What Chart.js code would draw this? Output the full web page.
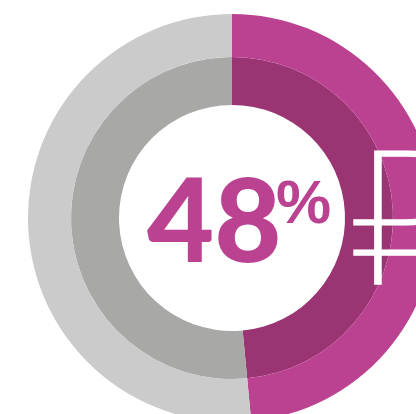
<!DOCTYPE html>
<html>
<head>
<meta charset="utf-8">
<script src="https://cdn.jsdelivr.net/npm/chart.js@4/dist/chart.umd.min.js"></script>
<style>
  html, body { margin: 0; padding: 0; background: #fff; overflow: hidden; width: 416px; height: 414px; }
  #wrap { position: absolute; left: 28px; top: 14px; width: 408px; height: 408px; }
</style>
</head>
<body>
<div id="wrap"><canvas id="statsChart"></canvas></div>
<script>
const categories = ["Доля", "Остальное"];
const outerValues = [48.5, 51.5];
const innerValues = [48.5, 51.5];
const centerLabel = "48";
const centerSuffix = "%";
const sideLabel = "₽";

const centerText = {
  id: "centerText",
  afterDraw(c) {
    const ctx = c.ctx;
    ctx.save();
    ctx.fillStyle = "#bb4291";
    ctx.textBaseline = "alphabetic";
    ctx.textAlign = "left";
    ctx.font = "900 116px Lato, 'Liberation Sans', Arial, sans-serif";
    // canvas is offset by the wrapper, so subtract it
    ctx.fillText(centerLabel, 147 - 28, 262 - 14);
    ctx.font = "bold 62px 'Liberation Sans', Arial, sans-serif";
    ctx.fillText(centerSuffix, 276 - 28, 223 - 14);
    // thin white rouble sign, a bit wider than the font draws it
    ctx.fillStyle = "#ffffff";
    ctx.strokeStyle = "#ffffff";
    ctx.lineWidth = 1.5;
    ctx.font = "100 186px 'Noto Sans', 'DejaVu Sans', sans-serif";
    ctx.translate(352 - 28, 284 - 14);
    ctx.scale(1.2, 1);
    ctx.fillText(sideLabel, 0, 0);
    ctx.strokeText(sideLabel, 0, 0);
    ctx.restore();
  }
};

const ctx = document.getElementById("statsChart").getContext("2d");
new Chart(ctx, {
  type: "doughnut",
  data: {
    labels: categories,
    datasets: [
      { data: outerValues, backgroundColor: ["#bb4291", "#cbcbcb"], borderWidth: 0, weight: 43 },
      { data: innerValues, backgroundColor: ["#9a3473", "#a8a8a7"], borderWidth: 0, weight: 48 }
    ]
  },
  options: {
    responsive: true,
    maintainAspectRatio: false,
    animation: false,
    cutout: "55.4%",
    layout: { padding: 0 },
    plugins: { legend: { display: false }, tooltip: { enabled: false } }
  },
  plugins: [centerText]
});
</script>
</body>
</html>
